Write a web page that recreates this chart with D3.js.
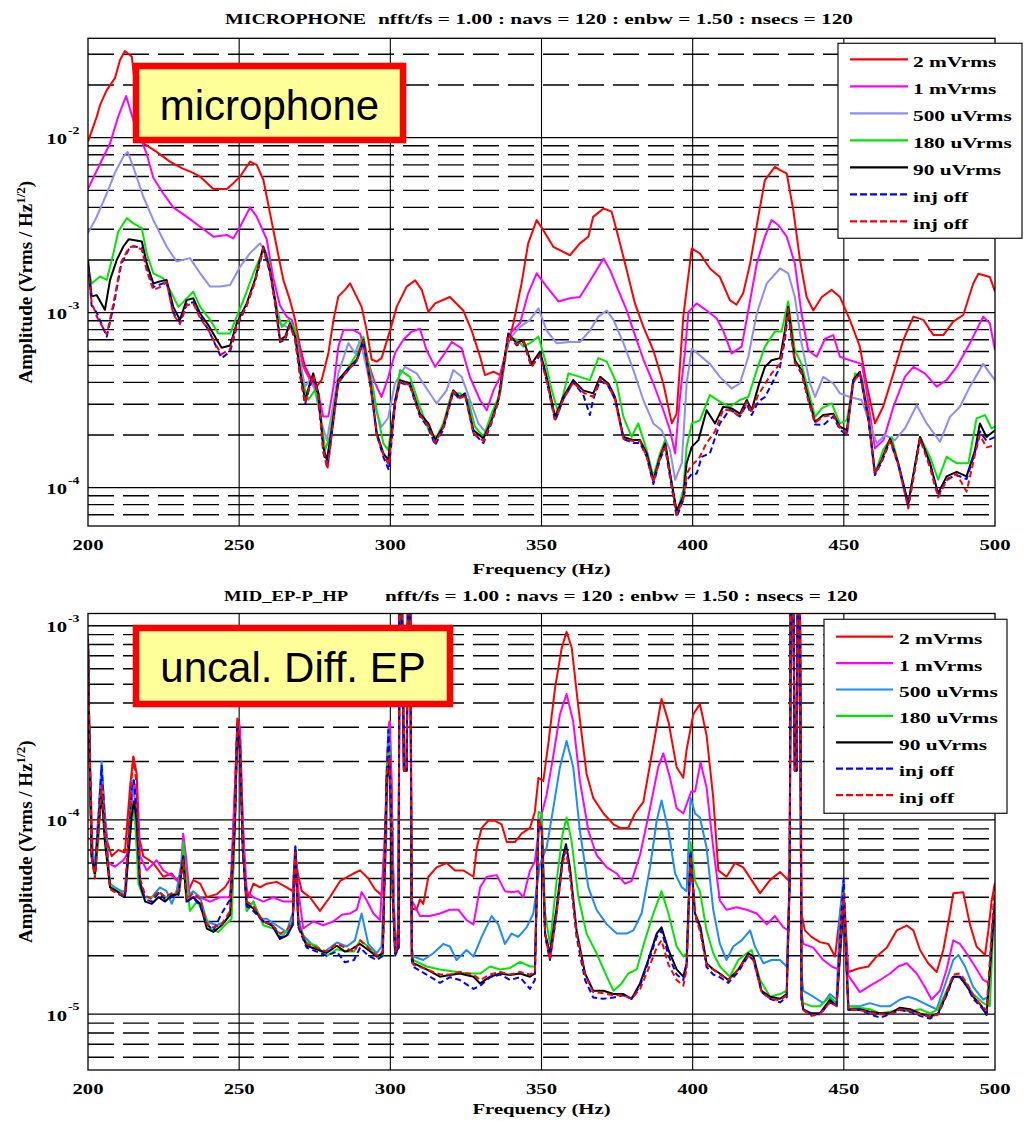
<!DOCTYPE html>
<html>
<head>
<meta charset="utf-8">
<script src="https://cdn.jsdelivr.net/npm/d3@7"></script>
<style>
  html, body { margin: 0; padding: 0; background: #ffffff; }
  svg { display: block; }
</style>
</head>
<body>
<div id="chart"></div>
<script>
// ---------------------------------------------------------------------------
// Amplitude spectral density, 200-500 Hz, two channels.
// Each series: [frequency (Hz), amplitude (Vrms / Hz^1/2)]
// ---------------------------------------------------------------------------

const seriesLabels = ["2 mVrms", "1 mVrms", "500 uVrms", "180 uVrms", "90 uVrms", "inj off", "inj off"];
const freqTicks = [200, 250, 300, 350, 400, 450, 500];

// ---- MICROPHONE channel ----
const mic2mV = [[200,9.5e-3],[202.9,1.32e-2],[204,1.54e-2],[206.2,1.87e-2],[208.9,2.19e-2],[210.6,2.78e-2],[212.2,3.13e-2],[214.5,2.9e-2],[216.2,1.6e-2],[218.3,9.3e-3],[222.7,8.3e-3],[227.1,7.3e-3],[231,6.7e-3],[234.8,6.3e-3],[237,6.0e-3],[241.5,5.1e-3],[245.9,5.1e-3],[248.1,5.5e-3],[250.3,6.0e-3],[253.6,7.3e-3],[255.8,7.0e-3],[258,5.75e-3],[260.2,3.7e-3],[262.4,2.38e-3],[264.6,1.54e-3],[266.8,1.18e-3],[268.5,9.1e-4],[270.1,6.4e-4],[271.8,4.9e-4],[274,4.13e-4],[275.6,3.78e-4],[277.3,4.13e-4],[279.5,5.86e-4],[281.2,9.1e-4],[282.8,1.24e-3],[285,1.35e-3],[286.7,1.47e-3],[288.3,1.29e-3],[290.5,1.08e-3],[292.2,7.9e-4],[293.8,5.4e-4],[295.5,5.25e-4],[297.1,5.5e-4],[299.9,7.9e-4],[302.1,1.08e-3],[305.4,1.41e-3],[308.2,1.53e-3],[310.4,1.35e-3],[312.6,1.01e-3],[314.8,1.13e-3],[319.7,1.23e-3],[324.1,1.03e-3],[326.9,7.9e-4],[329.7,5.6e-4],[331.3,4.4e-4],[334.1,4.6e-4],[336.3,4.4e-4],[338.5,6.1e-4],[340.7,8.7e-4],[343.4,1.47e-3],[345.6,2.49e-3],[348.4,3.38e-3],[350.6,2.96e-3],[353.9,2.38e-3],[359.4,2.13e-3],[362.7,2.49e-3],[365.5,2.72e-3],[367.1,3.53e-3],[370.5,3.94e-3],[373.2,3.78e-3],[375.4,2.72e-3],[378.2,1.75e-3],[380.9,1.13e-3],[383.7,8.3e-4],[387,6.1e-4],[390.3,3.94e-4],[393.1,2.33e-4],[394.7,2.65e-4],[396.9,9.5e-4],[399.7,2.33e-3],[402.4,2.18e-3],[405.7,1.79e-3],[409,1.6e-3],[412.3,1.18e-3],[414.5,1.11e-3],[416.7,1.29e-3],[419,1.91e-3],[421.7,3.53e-3],[423.9,5.73e-3],[427.2,6.82e-3],[428.9,6.53e-3],[431.1,6.25e-3],[433.3,3.85e-3],[435.5,2.0e-3],[437.7,1.23e-3],[439.9,1.03e-3],[442.7,1.23e-3],[446,1.35e-3],[448.7,1.23e-3],[452,9.1e-4],[455.3,6.4e-4],[457.5,3.94e-4],[460.3,2.33e-4],[463,2.9e-4],[466.4,4.5e-4],[469.7,7.0e-4],[473,9.5e-4],[476.3,9.1e-4],[479.6,7.45e-4],[482.9,7.45e-4],[486.2,8.9e-4],[489.5,9.7e-4],[492.8,1.47e-3],[494.5,1.67e-3],[498.3,1.6e-3],[500,1.32e-3]];

const mic1mV = [[200,5.1e-3],[204,7.1e-3],[207.3,9.3e-3],[210,1.32e-2],[212.6,1.73e-2],[215,1.26e-2],[219.4,8.1e-3],[221.6,5.9e-3],[224.9,4.8e-3],[228.2,4.0e-3],[232.6,3.54e-3],[237.1,3.1e-3],[241.5,2.72e-3],[245.9,2.78e-3],[248.1,2.66e-3],[250.3,3.1e-3],[253.6,4.0e-3],[255.8,3.54e-3],[259.1,2.63e-3],[261.3,1.58e-3],[263.5,1.1e-3],[265.7,9.5e-4],[267.4,9.1e-4],[269,7.3e-4],[271.2,4.9e-4],[273.4,4.13e-4],[276.2,3.46e-4],[277.8,2.55e-4],[279.5,2.55e-4],[281.2,3.78e-4],[282.8,6.4e-4],[284.5,7.96e-4],[287.8,7.96e-4],[290,7.6e-4],[292.2,5.5e-4],[294.9,3.98e-4],[297.1,3.3e-4],[299.3,4.27e-4],[301.6,5.9e-4],[304.3,7.0e-4],[307.1,7.8e-4],[309.8,8.1e-4],[312,6.1e-4],[314.8,4.9e-4],[317.5,5.7e-4],[320.3,6.8e-4],[323.6,6.25e-4],[326.3,4.3e-4],[329.7,3.16e-4],[331.9,2.77e-4],[334.1,3.6e-4],[336.3,4.3e-4],[339.6,7.6e-4],[342.9,8.7e-4],[345.6,1.29e-3],[348.4,1.68e-3],[351.7,1.41e-3],[355.6,1.16e-3],[359.4,1.21e-3],[362.7,1.23e-3],[365.5,1.47e-3],[368.2,1.75e-3],[370.5,2.04e-3],[372.7,1.75e-3],[374.9,1.41e-3],[378.2,1.03e-3],[380.4,7.9e-4],[383.7,5.4e-4],[387,3.94e-4],[390.3,2.77e-4],[392.5,2.13e-4],[394.2,1.57e-4],[395.8,3.3e-4],[397.5,6.1e-4],[398.6,1.01e-3],[401.3,1.13e-3],[404.6,1.03e-3],[407.9,9.3e-4],[410.1,7.9e-4],[412.9,5.85e-4],[416.2,6.4e-4],[418.4,1.03e-3],[421.2,1.91e-3],[423.9,2.72e-3],[426.1,3.38e-3],[428.3,3.17e-3],[431.1,2.72e-3],[433.8,1.91e-3],[436,9.9e-4],[438.2,6.1e-4],[441,5.6e-4],[443.8,7.1e-4],[446.5,7.45e-4],[448.7,5.6e-4],[452,5.35e-4],[455.9,5.1e-4],[457.5,3.6e-4],[460.3,1.68e-4],[463.1,1.87e-4],[466.4,2.9e-4],[470.2,4.3e-4],[473,4.9e-4],[476.8,4.5e-4],[480.7,3.78e-4],[484,4.12e-4],[487.3,4.9e-4],[491.7,6.7e-4],[496.1,9.5e-4],[498.3,8.7e-4],[500,6.1e-4]];

const mic500uV = [[200,2.84e-3],[202.9,3.54e-3],[206.2,4.8e-3],[208.9,6.3e-3],[211.7,7.8e-3],[213.1,8.3e-3],[215,6.8e-3],[218.3,4.6e-3],[221.6,3.39e-3],[226,2.39e-3],[229.3,1.96e-3],[233.7,2.05e-3],[237.1,1.68e-3],[240.4,1.41e-3],[243.7,1.41e-3],[247,1.44e-3],[250.3,1.83e-3],[253.6,2.19e-3],[256.9,2.49e-3],[259.1,2.19e-3],[261.3,1.35e-3],[263.5,8.7e-4],[265.7,8.3e-4],[267.9,7.96e-4],[269.6,5.86e-4],[271.8,3.78e-4],[273.4,4.13e-4],[275.1,3.6e-4],[277.3,2.33e-4],[279,1.87e-4],[280.6,2.66e-4],[282.8,4.5e-4],[286.1,6.7e-4],[288.3,5.86e-4],[290,7.0e-4],[292.2,4.8e-4],[294.9,2.88e-4],[297.1,2.23e-4],[299.3,2.51e-4],[301.5,3.94e-4],[304.8,4.9e-4],[308.7,4.5e-4],[312,3.69e-4],[315.3,3.03e-4],[318.6,3.6e-4],[320.8,4.7e-4],[323.6,4.3e-4],[326.4,3.16e-4],[329.1,2.33e-4],[331.9,2.04e-4],[334.1,2.65e-4],[336.3,3.46e-4],[339,7.0e-4],[342.9,8.3e-4],[346.2,9.1e-4],[349,1.06e-3],[351.7,7.9e-4],[355,6.7e-4],[359.4,6.8e-4],[362.7,6.8e-4],[366,7.9e-4],[368.8,9.5e-4],[371.6,1.03e-3],[373.8,9.1e-4],[377.1,6.7e-4],[380.4,4.7e-4],[383.7,3.16e-4],[387,2.33e-4],[389.7,2.13e-4],[392.5,1.64e-4],[394.2,1.11e-4],[396.4,1.38e-4],[398,3.94e-4],[399.7,6.25e-4],[402.4,5.7e-4],[405.7,5.1e-4],[409,4.3e-4],[412.9,3.69e-4],[415.6,3.94e-4],[418.4,5.6e-4],[421.2,9.9e-4],[424.5,1.47e-3],[428.9,1.79e-3],[431.6,1.68e-3],[433.8,1.23e-3],[436,6.7e-4],[438.8,3.94e-4],[440.5,3.3e-4],[443.2,4.3e-4],[446.5,3.94e-4],[448.7,3.46e-4],[452,3.3e-4],[455.9,3.17e-4],[458.6,2.33e-4],[460.9,1.79e-4],[463.6,2.0e-4],[466.9,1.87e-4],[470.2,2.18e-4],[474.1,2.96e-4],[477.4,2.33e-4],[481.8,1.83e-4],[485.1,2.54e-4],[488.4,2.9e-4],[491.7,3.78e-4],[496.1,5.1e-4],[498.3,4.5e-4],[500,4.12e-4]];

const mic180uV = [[200,1.83e-3],[201.2,1.47e-3],[204,1.61e-3],[206.2,1.54e-3],[208.4,2.19e-3],[210,2.9e-3],[212.8,3.47e-3],[215,3.24e-3],[217.8,3.04e-3],[219.4,2.19e-3],[221.6,1.68e-3],[224.9,1.57e-3],[227.1,1.35e-3],[229.9,1.08e-3],[232.1,1.18e-3],[234.8,1.32e-3],[237.1,1.08e-3],[240.4,9.1e-4],[243.1,7.6e-4],[247,7.6e-4],[249.2,9.5e-4],[251.9,1.24e-3],[254.7,1.68e-3],[258,2.29e-3],[259.7,2.0e-3],[261.9,1.13e-3],[264.1,8.3e-4],[266.3,9.1e-4],[268.5,8.0e-4],[270.7,4.13e-4],[272.9,3.18e-4],[275.1,3.62e-4],[276.7,2.78e-4],[278.4,1.64e-4],[280,1.96e-4],[282.3,3.78e-4],[285.6,4.7e-4],[289.4,6.0e-4],[291.1,7.3e-4],[293.3,4.7e-4],[295.5,2.77e-4],[297.7,1.79e-4],[299.3,1.64e-4],[301,2.65e-4],[303.2,4.7e-4],[306.5,4.3e-4],[309.8,2.9e-4],[313.1,2.04e-4],[315.3,1.95e-4],[317.5,2.33e-4],[320.3,3.46e-4],[323,3.46e-4],[325.8,3.17e-4],[328,2.23e-4],[330.8,1.95e-4],[333.5,2.65e-4],[336.3,3.46e-4],[339,7.3e-4],[341.8,7.0e-4],[344,6.4e-4],[346.7,6.8e-4],[349,7.3e-4],[351.2,5.35e-4],[353.4,3.6e-4],[355.6,2.65e-4],[358.9,4.5e-4],[362.7,4.3e-4],[366,4.12e-4],[368.8,5.5e-4],[371.6,5.25e-4],[374.9,3.94e-4],[377.1,2.54e-4],[379.8,1.95e-4],[382,2.33e-4],[384.8,1.64e-4],[387,1.16e-4],[389.2,1.57e-4],[390.9,1.87e-4],[392.5,1.21e-4],[394.7,7.1e-5],[396.9,9.7e-5],[398,1.71e-4],[399.7,2.33e-4],[402.4,2.43e-4],[405.7,3.38e-4],[409,3.1e-4],[412.3,2.9e-4],[415.6,3.17e-4],[418.4,3.3e-4],[421.2,4.7e-4],[423.9,6.4e-4],[427.2,7.8e-4],[429.4,7.8e-4],[431.6,1.16e-3],[433.8,6.1e-4],[436,5.1e-4],[438.2,3.6e-4],[440.5,2.54e-4],[442.7,2.84e-4],[446,3.03e-4],[448.7,2.33e-4],[451,2.43e-4],[453.7,4.5e-4],[455.9,4.3e-4],[458.1,2.65e-4],[460.3,1.21e-4],[463,1.64e-4],[465.8,1.95e-4],[468.6,1.26e-4],[471.3,8.1e-5],[475.2,1.95e-4],[478.5,1.5e-4],[481.2,1.11e-4],[484,1.5e-4],[487.3,1.38e-4],[491.2,1.38e-4],[493.9,2.49e-4],[496.7,2.6e-4],[498.9,2.18e-4],[500,2.23e-4]];

const mic90uV = [[200,2.0e-3],[201.2,1.24e-3],[202.9,1.26e-3],[205.6,1.04e-3],[207.3,1.54e-3],[209.5,2.0e-3],[211.7,2.39e-3],[213.5,2.63e-3],[215,2.6e-3],[217.8,2.55e-3],[219.4,1.92e-3],[221.6,1.47e-3],[223.8,1.51e-3],[226,1.54e-3],[228.2,1.08e-3],[230.4,9.1e-4],[232.6,1.18e-3],[234.8,1.21e-3],[237.1,9.9e-4],[239.8,8.5e-4],[242.6,7.0e-4],[244.2,6.3e-4],[247,6.5e-4],[249.2,8.7e-4],[252.5,1.13e-3],[255.2,1.54e-3],[258,2.39e-3],[260.2,1.75e-3],[261.9,1.18e-3],[263.5,7.0e-4],[265.2,7.3e-4],[266.8,8.7e-4],[268.5,7.3e-4],[270.1,4.7e-4],[271.8,3.17e-4],[273.4,3.94e-4],[274.5,4.5e-4],[276.2,3.46e-4],[277.8,1.71e-4],[279,1.44e-4],[280.6,2.14e-4],[282.8,4.13e-4],[285.6,4.7e-4],[288.9,5.4e-4],[291.1,7.0e-4],[293.3,4.13e-4],[295.5,2.05e-4],[297.7,1.57e-4],[299.3,1.44e-4],[301.6,3.16e-4],[303.2,4.12e-4],[306.5,3.94e-4],[309.8,2.65e-4],[312.6,2.33e-4],[314.8,1.87e-4],[317.5,2.23e-4],[320.8,3.6e-4],[323,3.3e-4],[324.7,3.46e-4],[327.5,2.13e-4],[330.8,1.91e-4],[333.5,2.43e-4],[335.7,3.17e-4],[339,7.6e-4],[341.8,6.7e-4],[344,7.0e-4],[346.7,5.1e-4],[349.5,6.0e-4],[351.7,4.3e-4],[354.5,2.54e-4],[357.2,3.3e-4],[360.5,4.12e-4],[363.8,3.6e-4],[367.1,3.46e-4],[369.4,4.3e-4],[372.1,3.94e-4],[374.3,3.3e-4],[377.1,1.95e-4],[380.4,1.87e-4],[382.6,1.87e-4],[384.8,1.57e-4],[387,1.1e-4],[389.2,1.5e-4],[390.9,1.79e-4],[392.5,1.21e-4],[394.7,7.4e-5],[396.9,8.9e-5],[398,1.38e-4],[399.7,1.71e-4],[401.9,1.87e-4],[404.6,2.77e-4],[407.4,2.33e-4],[410.1,2.9e-4],[412.9,2.84e-4],[415.6,2.65e-4],[417.9,3.17e-4],[419.5,2.77e-4],[421.7,3.78e-4],[423.9,4.9e-4],[426.1,5.35e-4],[428.9,5.5e-4],[430.5,7.9e-4],[431.6,1.08e-3],[433.8,5.35e-4],[436,4.7e-4],[438.2,3.3e-4],[440.5,2.38e-4],[443.2,2.6e-4],[446.5,2.65e-4],[448.7,2.23e-4],[451,2.13e-4],[453.1,4.12e-4],[455.3,4.6e-4],[458.1,2.54e-4],[460.3,1.21e-4],[462.5,1.44e-4],[465.3,1.91e-4],[468,1.38e-4],[471.3,8.1e-5],[475.2,1.95e-4],[478.5,1.38e-4],[481.2,9.3e-5],[484,1.16e-4],[487.3,1.23e-4],[490.6,1.16e-4],[493.4,1.64e-4],[495,2.33e-4],[497.2,1.95e-4],[500,2.13e-4]];

const micOffA = [[200,1.9e-3],[201.2,1.1e-3],[202.9,1.0e-3],[206.2,7.3e-4],[208.5,1.1e-3],[211,1.9e-3],[213.5,2.3e-3],[215,2.4e-3],[217.8,2.35e-3],[219.4,1.8e-3],[221.6,1.4e-3],[223.8,1.45e-3],[226,1.5e-3],[228.2,1.0e-3],[230.4,8.8e-4],[232.6,1.12e-3],[234.8,1.15e-3],[237.1,9.5e-4],[239.8,8.0e-4],[242.6,6.3e-4],[244.2,5.5e-4],[247,6.0e-4],[249.2,8.3e-4],[252.5,1.1e-3],[255.2,1.5e-3],[258,2.3e-3],[260.2,1.7e-3],[262,1.1e-3],[263.5,6.8e-4],[265.2,7.0e-4],[266.8,8.5e-4],[268.5,7.0e-4],[270.1,4.4e-4],[271.8,3.0e-4],[273.4,3.8e-4],[274.5,4.3e-4],[276.2,3.3e-4],[277.8,1.6e-4],[279.2,1.3e-4],[280.6,2.0e-4],[282.8,4.0e-4],[285.6,4.6e-4],[288.9,5.3e-4],[291.1,6.8e-4],[293.3,4.0e-4],[295.5,2.0e-4],[297.7,1.5e-4],[299.5,1.26e-4],[301.6,3.0e-4],[303.2,4.0e-4],[306.5,3.8e-4],[309.8,2.55e-4],[312.6,2.2e-4],[314.8,1.75e-4],[317.5,2.15e-4],[320.8,3.5e-4],[323,3.2e-4],[324.7,3.4e-4],[327.5,2.05e-4],[330.8,1.8e-4],[333.5,2.35e-4],[335.7,3.1e-4],[339,7.5e-4],[341.8,6.5e-4],[344,6.8e-4],[346.7,4.9e-4],[349.5,5.8e-4],[351.7,4.1e-4],[354.5,2.4e-4],[357.2,3.2e-4],[360.5,4.0e-4],[363.8,3.4e-4],[366,2.6e-4],[367.1,3.2e-4],[369.4,4.1e-4],[372.1,3.8e-4],[374.3,3.2e-4],[377.1,1.9e-4],[380.4,1.8e-4],[382.6,1.8e-4],[384.8,1.5e-4],[387,1.05e-4],[389.2,1.45e-4],[390.9,1.7e-4],[392.5,1.15e-4],[394.7,6.8e-5],[396.9,8.5e-5],[398,1.1e-4],[399.7,1.2e-4],[401.3,1.2e-4],[403,1.5e-4],[405.7,1.57e-4],[409,2.33e-4],[412.3,2.8e-4],[415.6,2.55e-4],[417.9,3.0e-4],[419.5,2.6e-4],[421.7,3.1e-4],[423.9,3.3e-4],[426.1,3.9e-4],[428.9,4.9e-4],[430.5,7.0e-4],[431.6,1.0e-3],[433.8,5.2e-4],[436,4.5e-4],[438.2,3.2e-4],[440.5,2.3e-4],[443.2,2.28e-4],[446.5,2.55e-4],[448.7,2.15e-4],[451,2.0e-4],[453.1,4.0e-4],[455.3,4.5e-4],[458.1,2.45e-4],[460.3,1.18e-4],[462.5,1.4e-4],[465.3,1.85e-4],[468,1.35e-4],[471.3,7.8e-5],[475.2,1.9e-4],[478.5,1.35e-4],[481.2,9.0e-5],[484,1.12e-4],[487.3,1.18e-4],[490.6,1.12e-4],[493.4,1.6e-4],[495,2.1e-4],[497.2,1.85e-4],[500,1.95e-4]];

const micOffB = [[200,1.8e-3],[201.2,1.15e-3],[202.9,9.5e-4],[206.2,7.5e-4],[208.5,1.15e-3],[211,1.95e-3],[213.5,2.35e-3],[215,2.4e-3],[217.8,2.3e-3],[219.4,1.75e-3],[221.6,1.35e-3],[223.8,1.4e-3],[226,1.5e-3],[228.2,9.8e-4],[230.4,8.6e-4],[232.6,1.1e-3],[234.8,1.13e-3],[237.1,9.3e-4],[239.8,8.0e-4],[242.6,6.4e-4],[244.2,5.8e-4],[247,6.2e-4],[249.2,8.5e-4],[252.5,1.1e-3],[255.2,1.5e-3],[258,2.35e-3],[260.2,1.7e-3],[262,1.12e-3],[263.5,6.9e-4],[265.2,7.1e-4],[266.8,8.5e-4],[268.5,7.1e-4],[270.1,4.5e-4],[271.8,3.05e-4],[273.4,3.85e-4],[274.5,4.4e-4],[276.2,3.35e-4],[277.8,1.65e-4],[279.2,1.28e-4],[280.6,2.0e-4],[282.8,4.0e-4],[285.6,4.6e-4],[288.9,5.3e-4],[291.1,6.9e-4],[293.3,4.05e-4],[295.5,2.0e-4],[297.7,1.55e-4],[299.5,1.35e-4],[301.6,3.05e-4],[303.2,4.05e-4],[306.5,3.85e-4],[309.8,2.6e-4],[312.6,2.25e-4],[314.8,1.8e-4],[317.5,2.2e-4],[320.8,3.55e-4],[323,3.25e-4],[324.7,3.4e-4],[327.5,2.05e-4],[330.8,1.85e-4],[333.5,2.4e-4],[335.7,3.1e-4],[339,7.5e-4],[341.8,6.6e-4],[344,6.9e-4],[346.7,4.9e-4],[349.5,5.7e-4],[351.7,4.1e-4],[354.5,2.45e-4],[357.2,3.2e-4],[360.5,4.0e-4],[363.8,3.5e-4],[367.1,3.3e-4],[369.4,4.2e-4],[372.1,3.85e-4],[374.3,3.2e-4],[377.1,1.9e-4],[380.4,1.85e-4],[382.6,1.85e-4],[384.8,1.5e-4],[387,1.07e-4],[389.2,1.47e-4],[390.9,1.75e-4],[392.5,1.18e-4],[394.7,7.0e-5],[396.9,8.6e-5],[398,1.2e-4],[399.7,1.35e-4],[401.9,1.45e-4],[404.6,1.8e-4],[407.4,2.1e-4],[410.1,2.8e-4],[412.9,2.75e-4],[415.6,2.55e-4],[417.9,3.1e-4],[419.5,2.7e-4],[421.7,3.4e-4],[423.9,3.9e-4],[426.1,4.5e-4],[428.9,5.1e-4],[430.5,7.4e-4],[431.6,1.05e-3],[433.8,5.2e-4],[436,4.6e-4],[438.2,3.2e-4],[440.5,2.35e-4],[443.2,2.55e-4],[446.5,2.6e-4],[448.7,2.2e-4],[451,2.05e-4],[453.1,4.0e-4],[455.3,4.5e-4],[458.1,2.5e-4],[460.3,1.2e-4],[462.5,1.42e-4],[465.3,1.88e-4],[468,1.36e-4],[471.3,7.6e-5],[475.2,1.9e-4],[478.5,1.3e-4],[481.2,8.8e-5],[484,1.1e-4],[487.3,1.2e-4],[490.6,9.5e-5],[493.4,1.55e-4],[495,2.0e-4],[497.2,1.7e-4],[500,1.75e-4]];

// ---- MID_EP-P_HP channel (uncalibrated differential EP) ----
const ep2mV = [[200,8.5e-4],[200.4,3.07e-4],[200.9,1.47e-4],[201.6,6.5e-5],[202.3,5.3e-5],[203.1,7.7e-5],[204,1.47e-4],[204.7,1.66e-4],[205.6,1.06e-4],[206.4,7.7e-5],[207.8,6.5e-5],[210,7.0e-5],[212.2,6.8e-5],[213.9,1.47e-4],[215,2.12e-4],[216.1,1.73e-4],[217,8.0e-5],[218.3,6.5e-5],[221.6,6.0e-5],[224.9,5.1e-5],[227.7,5.3e-5],[229.3,4.9e-5],[231,5.3e-5],[231.9,7.0e-5],[233.2,4.3e-5],[234.8,4.9e-5],[237.1,4.7e-5],[239.3,4.0e-5],[242.6,4.15e-5],[245.3,4.5e-5],[247.5,5.1e-5],[248.6,1.47e-4],[249.4,3.33e-4],[250.1,3.07e-4],[250.8,1.47e-4],[251.9,4.9e-5],[253,4.0e-5],[254.7,4.7e-5],[256.9,4.5e-5],[259.1,4.7e-5],[262.4,4.8e-5],[265.7,4.5e-5],[267.7,4.3e-5],[268.5,7.0e-5],[269.4,5.3e-5],[270.7,4.3e-5],[273.4,4.0e-5],[276.7,3.4e-5],[280,4.0e-5],[283.4,4.85e-5],[287.8,5.3e-5],[290,5.5e-5],[292.7,5.0e-5],[294.9,4.4e-5],[297.1,4.1e-5],[298.2,7.2e-5],[299,2.15e-4],[299.7,3.2e-4],[300.4,1.6e-4],[301.2,3.3e-5],[302.1,2.2e-5],[302.7,2.5e-5],[303.1,3e-3],[303.6,3e-3],[304.5,1.8e-4],[305.4,1.8e-4],[306,3e-3],[306.5,3e-3],[307,3.5e-5],[308.7,3.45e-5],[309.8,3.9e-5],[310.9,3.7e-5],[312.6,5.1e-5],[315.3,5.7e-5],[318.6,6.0e-5],[321.4,5.5e-5],[324.1,5.5e-5],[325.8,5.3e-5],[327.5,5.1e-5],[328.6,7.2e-5],[330.2,9.1e-5],[332.4,9.9e-5],[334.6,9.9e-5],[336.8,9.5e-5],[338.5,7.7e-5],[341.2,7.7e-5],[343.4,8.5e-5],[346.2,9.1e-5],[347.8,1.1e-4],[349,1.65e-4],[350.6,1.59e-4],[352.3,2.5e-4],[354.5,4.8e-4],[356.7,7.7e-4],[358.3,9.3e-4],[360,7.7e-4],[362.2,3.8e-4],[364.9,1.73e-4],[367.1,1.3e-4],[370.5,1.08e-4],[373.8,9.5e-5],[376,9.1e-5],[378.7,9.1e-5],[380.9,1.08e-4],[383.7,1.24e-4],[386.4,2.14e-4],[389.7,4.2e-4],[392,3.2e-4],[394.7,1.87e-4],[396.9,1.65e-4],[398,2.3e-4],[400.2,3.5e-4],[402.4,3.95e-4],[404.6,2.73e-4],[406.8,1.3e-4],[408.5,5.5e-5],[411.2,5.1e-5],[414,6.0e-5],[416.7,5.7e-5],[419.5,4.9e-5],[422.3,4.2e-5],[425.6,4.9e-5],[428.9,5.4e-5],[431.6,4.9e-5],[432.1,6e-5],[432.5,3e-3],[433.1,3e-3],[433.8,1.8e-4],[434.4,1.8e-4],[434.9,3e-3],[435.4,3e-3],[436,3.3e-5],[437.1,2.7e-5],[439.3,2.5e-5],[442.1,2.35e-5],[444.9,2.3e-5],[447.1,1.98e-5],[448.5,3.05e-5],[449.6,4.2e-5],[450.4,3.3e-5],[451.5,1.65e-5],[454.8,1.72e-5],[458.1,1.76e-5],[460.8,1.98e-5],[464.2,2.2e-5],[467.5,2.7e-5],[470.8,2.86e-5],[473,2.7e-5],[475.2,2.14e-5],[477.9,1.83e-5],[480.7,1.65e-5],[482.9,2.14e-5],[485.1,3.3e-5],[486.2,4.2e-5],[489.5,4.25e-5],[491.7,2.9e-5],[493.9,2.23e-5],[496.7,2.02e-5],[497.8,2.7e-5],[498.9,3.85e-5],[500,4.75e-5]];

const ep1mV = [[200,8.2e-4],[200.4,3.07e-4],[201.2,6.5e-5],[202.3,5.5e-5],[203.1,9.0e-5],[204.5,1.73e-4],[205.6,9.8e-5],[206.7,6.0e-5],[208.9,5.75e-5],[211.7,6.2e-5],[213.3,6.8e-5],[215,1.6e-4],[216.1,1.36e-4],[217.2,6.5e-5],[219.4,5.5e-5],[222.7,6.2e-5],[224.9,5.5e-5],[228.2,5.1e-5],[230.4,4.7e-5],[231.5,8.5e-5],[232.4,6.5e-5],[233.7,4.0e-5],[237.1,4.0e-5],[240.4,3.8e-5],[243.7,4.0e-5],[247,4.0e-5],[248.6,1.47e-4],[249.5,3.2e-4],[250.3,2.94e-4],[251.2,9.8e-5],[252.5,4.3e-5],[254.7,4.0e-5],[258,3.8e-5],[261.3,4.0e-5],[264.6,3.8e-5],[267.7,3.8e-5],[268.5,7.0e-5],[269.6,4.3e-5],[271.2,2.76e-5],[274.5,3.0e-5],[277.8,2.87e-5],[281.1,3.0e-5],[284,3.25e-5],[286.7,3.3e-5],[288.9,3.45e-5],[290.5,4.25e-5],[292.2,3.85e-5],[294.4,3.3e-5],[296.6,3.05e-5],[298.2,8.5e-5],[299.3,2.85e-4],[299.9,3.2e-4],[300.8,7.2e-5],[301.6,2.2e-5],[302.7,2.5e-5],[303.1,3e-3],[303.6,3e-3],[304.5,1.8e-4],[305.4,1.8e-4],[306,3e-3],[306.5,3e-3],[307.1,3.85e-5],[309.8,3.2e-5],[313.1,3.2e-5],[316.4,3.3e-5],[319.7,3.45e-5],[322.5,3.45e-5],[325.2,3.05e-5],[327.5,2.9e-5],[329.7,4.5e-5],[331.9,5.1e-5],[335.2,5.2e-5],[337.9,4.3e-5],[340.1,4.25e-5],[342.3,4.3e-5],[344,4.0e-5],[346.2,5.5e-5],[347.8,6.1e-5],[349.5,9.9e-5],[351.7,1.35e-4],[353.9,2.14e-4],[356.1,3.5e-4],[358.3,4.45e-4],[360.5,3.2e-4],[362.7,1.59e-4],[365.5,8.8e-5],[368.2,6.6e-5],[371.6,5.7e-5],[374.9,5.3e-5],[377.6,4.7e-5],[379.8,4.85e-5],[382.6,6.6e-5],[385.9,1.15e-4],[388.6,1.87e-4],[390.3,2.2e-4],[392.5,1.65e-4],[394.7,1.15e-4],[396.9,1.08e-4],[399.5,1.4e-4],[400.8,1.4e-4],[402.6,1.98e-4],[404.6,1.47e-4],[406.8,7.2e-5],[409,3.85e-5],[411.2,3.45e-5],[414.5,3.55e-5],[417.9,3.45e-5],[421.2,3.3e-5],[424.5,2.9e-5],[427.2,3.2e-5],[430,2.8e-5],[431.6,2.7e-5],[432.1,6e-5],[432.5,3e-3],[433.1,3e-3],[433.8,1.8e-4],[434.4,1.8e-4],[434.9,3e-3],[435.4,3e-3],[436,2.6e-5],[436.6,2.3e-5],[439.9,2.2e-5],[443.2,1.9e-5],[446,1.76e-5],[448.2,1.7e-5],[449.3,3.85e-5],[450.4,2.7e-5],[451.5,1.58e-5],[455.3,1.3e-5],[458.6,1.4e-5],[462,1.5e-5],[465.3,1.62e-5],[468,1.76e-5],[470.8,1.83e-5],[474.1,1.62e-5],[476.8,1.38e-5],[479,1.19e-5],[481.8,1.32e-5],[484,1.7e-5],[486.2,2.4e-5],[488.4,2.3e-5],[490.6,2.06e-5],[493.4,1.76e-5],[496.1,1.5e-5],[498.3,1.44e-5],[499.4,3.3e-5],[500,3.55e-5]];

const ep500uV = [[200,8.9e-4],[200.4,3.07e-4],[201.2,7.0e-5],[202.3,6.0e-5],[203.4,9.8e-5],[204.5,2.0e-4],[205.6,9.8e-5],[207.3,4.7e-5],[208.9,4.5e-5],[211.1,4.3e-5],[212.6,4.3e-5],[214.5,1.6e-4],[215.6,1.25e-4],[216.7,5.3e-5],[218.3,4.0e-5],[221.1,4.0e-5],[223.8,4.5e-5],[226,4.3e-5],[227.7,3.7e-5],[229.3,4.3e-5],[231.3,6.5e-5],[232.6,4.0e-5],[234.8,4.3e-5],[237.1,4.0e-5],[239.3,3.0e-5],[242.6,2.87e-5],[245.3,3.0e-5],[247.5,3.4e-5],[248.6,9.8e-5],[249.4,3.07e-4],[250.3,2.4e-4],[251.2,8.0e-5],[252.5,3.4e-5],[254.7,3.8e-5],[256.9,3.1e-5],[259.1,3.1e-5],[262.4,2.87e-5],[265.7,2.65e-5],[267.9,3.4e-5],[268.6,7.3e-5],[269.6,3.1e-5],[271.2,2.54e-5],[274.5,2.25e-5],[277.8,2.07e-5],[282.3,2.34e-5],[285.6,2.23e-5],[288.3,2.4e-5],[290.5,3.3e-5],[292.7,2.3e-5],[295.5,2.06e-5],[297.1,2.23e-5],[298.6,7.2e-5],[299.4,2.95e-4],[300.4,1.08e-4],[301.6,2.06e-5],[302.7,2.2e-5],[303.1,3e-3],[303.6,3e-3],[304.5,1.8e-4],[305.4,1.8e-4],[306,3e-3],[306.5,3e-3],[307.1,2.2e-5],[307.6,1.98e-5],[310.9,1.9e-5],[314.2,2.06e-5],[317.5,2.3e-5],[319.7,2.23e-5],[321.9,1.9e-5],[325.2,2.14e-5],[327.5,1.98e-5],[330.2,2.5e-5],[333.5,3.2e-5],[335.7,2.9e-5],[337.9,2.3e-5],[340.1,2.6e-5],[342.3,2.5e-5],[345.1,2.8e-5],[347.3,3.3e-5],[349.5,5.9e-5],[351.7,7.2e-5],[353.9,1.15e-4],[356.1,1.87e-4],[358.3,2.55e-4],[360.5,1.87e-4],[362.7,8.8e-5],[365.5,4.5e-5],[368.2,3.45e-5],[371.6,2.9e-5],[374.9,2.6e-5],[378.2,2.6e-5],[380.4,2.7e-5],[383.1,3.3e-5],[385.9,5.7e-5],[388.1,9.9e-5],[389.7,1.26e-4],[392,8.8e-5],[394.2,5.3e-5],[396.4,4.5e-5],[398,4.3e-5],[399.3,1.3e-4],[400.8,1.08e-4],[402.4,1.03e-4],[404.6,7.2e-5],[406.8,3.45e-5],[409,2.3e-5],[411.2,1.9e-5],[413.4,2.23e-5],[416.2,2.4e-5],[419,2.7e-5],[420.6,2.23e-5],[423.4,1.83e-5],[426.1,1.9e-5],[428.9,1.9e-5],[431.1,1.76e-5],[432.1,5e-5],[432.5,3e-3],[433.1,3e-3],[433.8,1.8e-4],[434.4,1.8e-4],[434.9,3e-3],[435.4,3e-3],[436,1.6e-5],[436.6,1.32e-5],[439.9,1.23e-5],[443.2,1.14e-5],[445.4,1.27e-5],[447.6,1.19e-5],[448.7,3.3e-5],[449.8,4.85e-5],[450.6,2.23e-5],[451.5,1.1e-5],[455.3,1.1e-5],[458.6,1.14e-5],[462,1.1e-5],[465.3,1.1e-5],[468.6,1.19e-5],[471.3,1.23e-5],[474.1,1.19e-5],[477.4,1.12e-5],[480.7,1.06e-5],[484,1.5e-5],[486.2,1.9e-5],[487.9,2.02e-5],[490.1,1.76e-5],[492.8,1.38e-5],[496.1,1.19e-5],[497.8,1.23e-5],[498.9,2.7e-5],[500,3.05e-5]];

const ep180uV = [[200,7.5e-4],[200.4,2.71e-4],[201.2,6.5e-5],[202.3,5.1e-5],[203.4,7.7e-5],[204.5,1.47e-4],[205.6,8.3e-5],[207.3,4.7e-5],[209.5,4.3e-5],[212.2,4.15e-5],[214.5,1.2e-4],[215.6,9.8e-5],[216.7,4.7e-5],[218.3,4.0e-5],[221.1,4.0e-5],[223.8,4.2e-5],[226,4.0e-5],[228.2,4.15e-5],[230.4,4.3e-5],[231.5,7.7e-5],[232.4,5.3e-5],[233.7,3.4e-5],[236,3.8e-5],[238.2,3.4e-5],[240.4,2.76e-5],[243.1,2.65e-5],[245.3,2.87e-5],[247.5,3.1e-5],[248.6,9.0e-5],[249.4,3.07e-4],[250.3,2.4e-4],[251.2,7.7e-5],[252.5,3.4e-5],[254.7,3.8e-5],[258,2.87e-5],[261.3,2.76e-5],[264.6,2.54e-5],[267.7,3.0e-5],[268.6,7.0e-5],[269.6,2.87e-5],[272.3,2.34e-5],[275.6,2.25e-5],[278.9,1.99e-5],[282.3,2.16e-5],[285.6,2.1e-5],[288,2.1e-5],[290,2.4e-5],[292.7,2.23e-5],[295.5,1.98e-5],[297.5,1.98e-5],[298.8,1.87e-4],[299.7,2.45e-4],[300.8,4.85e-5],[301.6,2.06e-5],[302.7,2.2e-5],[303.1,3e-3],[303.6,3e-3],[304.5,1.8e-4],[305.4,1.8e-4],[306,3e-3],[306.5,3e-3],[307.1,2.1e-5],[307.6,1.9e-5],[312,1.76e-5],[316.4,1.7e-5],[320.8,1.66e-5],[325.2,1.62e-5],[329.7,1.62e-5],[333,1.76e-5],[336.3,1.7e-5],[339.6,1.73e-5],[342.9,1.86e-5],[346.2,1.76e-5],[347.8,1.76e-5],[349,1.1e-4],[350.1,1.08e-4],[351.2,3.3e-5],[352.8,2.3e-5],[355,4.85e-5],[357,8.5e-5],[358.3,1.03e-4],[360,7.7e-5],[362.2,4.0e-5],[364.9,2.6e-5],[368.2,2.06e-5],[371.6,1.56e-5],[373.8,1.32e-5],[376.5,1.44e-5],[378.7,1.62e-5],[381.5,1.7e-5],[384.2,2.4e-5],[387,3.3e-5],[389.7,4.3e-5],[392,3.3e-5],[394.7,2.23e-5],[396.9,1.98e-5],[398,2.06e-5],[399.3,7.7e-5],[400.8,4.85e-5],[402.4,4.3e-5],[404.6,2.7e-5],[406.8,2.06e-5],[409,1.76e-5],[412.3,1.56e-5],[415.1,1.9e-5],[417.9,2.06e-5],[419.5,2.14e-5],[422.3,1.5e-5],[425.6,1.23e-5],[428.9,1.27e-5],[431.1,1.32e-5],[432.1,5e-5],[432.5,3e-3],[433.1,3e-3],[433.8,1.8e-4],[434.4,1.8e-4],[434.9,3e-3],[435.4,3e-3],[436,1.3e-5],[436.6,1.14e-5],[439.3,1.1e-5],[442.1,1.1e-5],[445.4,1.23e-5],[447.6,1.14e-5],[449.3,2.7e-5],[450,4.5e-5],[450.7,2.23e-5],[451.5,1.1e-5],[455.3,1.08e-5],[458.6,1.06e-5],[462,1.01e-5],[465.3,1.03e-5],[468.6,1.06e-5],[471.9,1.03e-5],[475.2,1.06e-5],[478.5,1.01e-5],[481.2,1.06e-5],[484,1.32e-5],[486.2,1.56e-5],[488.4,1.56e-5],[490.6,1.44e-5],[492.8,1.27e-5],[496.1,1.14e-5],[498.3,1.1e-5],[499.4,2.7e-5],[500,3.3e-5]];

const ep90uV = [[200,8.2e-4],[200.4,2.94e-4],[201.2,6.5e-5],[202.3,5.3e-5],[203.4,9.0e-5],[204.5,1.36e-4],[205.6,7.7e-5],[207.3,4.5e-5],[209.5,4.3e-5],[212.2,4.0e-5],[214.5,1.06e-4],[215.2,1.25e-4],[216.1,9.8e-5],[217.2,4.7e-5],[218.9,3.8e-5],[221.1,3.7e-5],[223.3,4.0e-5],[225.5,3.8e-5],[227.7,4.1e-5],[229.9,4.15e-5],[231.5,6.5e-5],[232.6,3.8e-5],[234.8,4.0e-5],[237.1,3.7e-5],[239.3,2.76e-5],[241.5,2.65e-5],[244.2,2.87e-5],[247,3.25e-5],[248.6,9.8e-5],[249.4,3.07e-4],[250.3,2.21e-4],[251.2,7.0e-5],[252.5,3.7e-5],[254.7,3.5e-5],[258,3.0e-5],[260.8,2.87e-5],[263.5,2.44e-5],[265.7,2.54e-5],[267.7,2.87e-5],[268.6,7.0e-5],[269.6,2.87e-5],[272.3,2.25e-5],[275.6,2.16e-5],[278.9,2.07e-5],[282.3,2.25e-5],[285,2.1e-5],[286.7,2.14e-5],[290,2.3e-5],[292.7,2.14e-5],[295.5,1.98e-5],[297.5,2.06e-5],[298.8,1.59e-4],[299.7,2.0e-4],[300.8,4.0e-5],[301.6,2.06e-5],[302.7,2.2e-5],[303.1,3e-3],[303.6,3e-3],[304.5,1.8e-4],[305.4,1.8e-4],[306,3e-3],[306.5,3e-3],[307.1,2.0e-5],[307.6,1.83e-5],[312,1.7e-5],[316.4,1.56e-5],[319.7,1.59e-5],[323,1.62e-5],[327.5,1.56e-5],[329.7,1.44e-5],[333,1.56e-5],[336.3,1.62e-5],[339.6,1.59e-5],[342.9,1.62e-5],[346.2,1.56e-5],[347.8,1.62e-5],[349,9.9e-5],[350.1,8.8e-5],[351.2,2.6e-5],[352.8,2.06e-5],[355,3.55e-5],[357,6.4e-5],[358.1,7.5e-5],[359.4,5.7e-5],[361.6,2.7e-5],[364.4,1.62e-5],[367.1,1.32e-5],[370.5,1.32e-5],[373.8,1.27e-5],[377.1,1.27e-5],[379.8,1.2e-5],[382.6,1.44e-5],[385.3,1.9e-5],[388.1,2.6e-5],[389.7,2.8e-5],[392,2.14e-5],[394.7,1.7e-5],[396.9,1.56e-5],[398,1.83e-5],[399.3,6.6e-5],[400.8,3.3e-5],[402.6,2.8e-5],[404.6,1.83e-5],[406.8,1.7e-5],[409,1.62e-5],[411.8,1.5e-5],[415.1,1.7e-5],[418.4,2.06e-5],[420.1,1.98e-5],[422.8,1.32e-5],[425.6,1.23e-5],[428.9,1.2e-5],[431.1,1.27e-5],[432.1,5e-5],[432.5,3e-3],[433.1,3e-3],[433.8,1.8e-4],[434.4,1.8e-4],[434.9,3e-3],[435.4,3e-3],[436,1.2e-5],[436.6,1.06e-5],[439.3,1.01e-5],[442.1,1.01e-5],[445.4,1.19e-5],[447.6,1.1e-5],[449.3,2.7e-5],[450,3.85e-5],[450.7,2.06e-5],[451.5,1.06e-5],[455.3,1.06e-5],[458.6,1.03e-5],[462,1.01e-5],[465.3,1.01e-5],[468.6,1.08e-5],[471.9,1.06e-5],[475.2,1.01e-5],[478.5,9.7e-6],[481.2,1.01e-5],[484,1.27e-5],[486.2,1.56e-5],[488.4,1.56e-5],[490.6,1.4e-5],[492.8,1.23e-5],[495.6,1.1e-5],[497.2,9.9e-6],[498.9,2.23e-5],[500,4.0e-5]];

const epOffA = [[200,8.5e-4],[200.4,3.0e-4],[201.2,6.5e-5],[202.3,5.3e-5],[203.4,9.5e-5],[204.5,1.9e-4],[205.6,9.0e-5],[207.3,4.5e-5],[209.5,4.2e-5],[212.2,4.0e-5],[214.5,1.5e-4],[215.2,1.6e-4],[216.1,1.1e-4],[217.2,4.8e-5],[218.9,3.9e-5],[221.1,3.8e-5],[223.3,4.2e-5],[225.5,3.9e-5],[227.7,4.0e-5],[229.9,4.1e-5],[231.5,6.5e-5],[232.6,3.8e-5],[234.8,4.0e-5],[237.1,3.6e-5],[239.3,2.9e-5],[241.5,2.7e-5],[244.2,3.3e-5],[247,3.9e-5],[248.6,1.0e-4],[249.4,3.1e-4],[250.3,2.3e-4],[251.2,7.0e-5],[252.5,3.6e-5],[254.7,3.4e-5],[258,3.0e-5],[260.8,2.9e-5],[263.5,2.5e-5],[265.7,2.5e-5],[267.7,2.9e-5],[268.6,7.3e-5],[269.6,2.8e-5],[272.3,2.2e-5],[275.6,2.1e-5],[278.9,2.0e-5],[282.3,2.1e-5],[285,1.85e-5],[288,1.9e-5],[290,2.2e-5],[292.7,2.0e-5],[295.5,1.9e-5],[297.5,2.0e-5],[298.8,1.7e-4],[299.4,2.9e-4],[300.3,1.2e-4],[300.8,4.0e-5],[301.6,2.0e-5],[302.7,2.2e-5],[303.1,3e-3],[303.6,3e-3],[304.5,1.8e-4],[305.4,1.8e-4],[306,3e-3],[306.5,3e-3],[307.1,1.9e-5],[307.6,1.75e-5],[312,1.6e-5],[316.4,1.45e-5],[319.7,1.55e-5],[323,1.5e-5],[327.5,1.35e-5],[329.7,1.4e-5],[333,1.55e-5],[336.3,1.6e-5],[339.6,1.5e-5],[342.9,1.55e-5],[346.2,1.35e-5],[347.8,1.5e-5],[349,1.0e-4],[350.1,9.0e-5],[351.2,2.5e-5],[352.8,1.9e-5],[355,3.3e-5],[357,6.2e-5],[358.1,7.2e-5],[359.4,5.4e-5],[361.6,2.5e-5],[364.4,1.5e-5],[367.1,1.22e-5],[370.5,1.2e-5],[373.8,1.22e-5],[377.1,1.25e-5],[379.8,1.2e-5],[382.6,1.4e-5],[385.3,1.85e-5],[388.1,2.5e-5],[389.7,2.7e-5],[392,2.0e-5],[394.7,1.6e-5],[396.9,1.5e-5],[398,1.8e-5],[399.3,7.0e-5],[400.8,3.2e-5],[402.6,2.7e-5],[404.6,1.75e-5],[406.8,1.6e-5],[409,1.55e-5],[411.8,1.45e-5],[415.1,1.65e-5],[418.4,2.0e-5],[420.1,1.9e-5],[422.8,1.3e-5],[425.6,1.2e-5],[428.9,1.15e-5],[431.1,1.22e-5],[432.1,5e-5],[432.5,3e-3],[433.1,3e-3],[433.8,1.8e-4],[434.4,1.8e-4],[434.9,3e-3],[435.4,3e-3],[436,1.2e-5],[436.6,1.05e-5],[439.3,1.0e-5],[442.1,1.0e-5],[445.4,1.15e-5],[447.6,1.1e-5],[449.3,3.5e-5],[450,5.0e-5],[450.7,2.2e-5],[451.5,1.05e-5],[455.3,1.05e-5],[458.6,1.0e-5],[462,9.6e-6],[465.3,1.0e-5],[468.6,1.05e-5],[471.9,1.03e-5],[475.2,9.8e-6],[478.5,9.5e-6],[481.2,1.0e-5],[484,1.25e-5],[486.2,1.55e-5],[488.4,1.55e-5],[490.6,1.4e-5],[492.8,1.2e-5],[495.6,1.08e-5],[497.2,1.0e-5],[498.9,2.4e-5],[500,4.2e-5]];

const epOffB = [[200,8.6e-4],[200.4,3.2e-4],[201.2,6.4e-5],[202.3,5.0e-5],[203.4,8.5e-5],[204.5,1.5e-4],[205.6,8.5e-5],[207.3,4.4e-5],[209.5,4.2e-5],[212.2,4.1e-5],[214.5,1.7e-4],[215,2.1e-4],[216.1,1.5e-4],[217.2,5.0e-5],[218.9,4.1e-5],[221.1,3.9e-5],[223.3,4.3e-5],[225.5,4.0e-5],[227.7,4.2e-5],[229.9,4.3e-5],[231.5,6.2e-5],[232.6,3.9e-5],[234.8,4.2e-5],[237.1,3.9e-5],[239.3,2.9e-5],[241.5,2.8e-5],[244.2,2.9e-5],[247,3.4e-5],[248.6,1.1e-4],[249.4,3.3e-4],[250.3,2.6e-4],[251.2,7.5e-5],[252.5,3.8e-5],[254.7,3.6e-5],[258,3.0e-5],[260.8,2.9e-5],[263.5,2.6e-5],[265.7,2.7e-5],[267.7,3.0e-5],[268.6,6.8e-5],[269.6,2.9e-5],[272.3,2.3e-5],[275.6,2.2e-5],[278.9,2.1e-5],[282.3,2.3e-5],[285,2.2e-5],[288,2.1e-5],[290,2.4e-5],[292.7,2.2e-5],[295.5,2.0e-5],[297.5,2.1e-5],[298.8,1.7e-4],[299.7,2.1e-4],[300.8,4.2e-5],[301.6,2.1e-5],[302.7,2.3e-5],[303.1,3e-3],[303.6,3e-3],[304.5,1.8e-4],[305.4,1.8e-4],[306,3e-3],[306.5,3e-3],[307.1,2.0e-5],[307.6,1.8e-5],[312,1.7e-5],[316.4,1.6e-5],[319.7,1.6e-5],[323,1.65e-5],[327.5,1.6e-5],[329.7,1.5e-5],[333,1.6e-5],[336.3,1.65e-5],[339.6,1.6e-5],[342.9,1.65e-5],[346.2,1.6e-5],[347.8,1.65e-5],[349,1.0e-4],[350.1,9.0e-5],[351.2,2.6e-5],[352.8,1.9e-5],[355,3.3e-5],[357,6.0e-5],[358.1,6.9e-5],[359.4,5.3e-5],[361.6,2.6e-5],[364.4,1.6e-5],[367.1,1.3e-5],[370.5,1.28e-5],[373.8,1.25e-5],[377.1,1.25e-5],[379.8,1.2e-5],[382.6,1.35e-5],[385.3,1.7e-5],[388.1,2.2e-5],[389.7,2.4e-5],[392,1.8e-5],[394.7,1.5e-5],[396.9,1.4e-5],[398,1.7e-5],[399.3,6.5e-5],[400.8,3.3e-5],[402.6,2.6e-5],[404.6,1.8e-5],[406.8,1.7e-5],[409,1.6e-5],[411.8,1.5e-5],[415.1,1.7e-5],[418.4,2.0e-5],[420.1,1.9e-5],[422.8,1.3e-5],[425.6,1.2e-5],[428.9,1.18e-5],[431.1,1.25e-5],[432.1,5e-5],[432.5,3e-3],[433.1,3e-3],[433.8,1.8e-4],[434.4,1.8e-4],[434.9,3e-3],[435.4,3e-3],[436,1.2e-5],[436.6,1.05e-5],[439.3,9.8e-6],[442.1,1.0e-5],[445.4,1.15e-5],[447.6,1.1e-5],[449.3,3.0e-5],[450,4.2e-5],[450.7,2.0e-5],[451.5,1.05e-5],[455.3,1.05e-5],[458.6,1.02e-5],[462,1.0e-5],[465.3,1.0e-5],[468.6,1.06e-5],[471.9,1.04e-5],[475.2,1.0e-5],[478.5,9.7e-6],[481.2,1.0e-5],[484,1.3e-5],[486.2,1.6e-5],[488.4,1.62e-5],[490.6,1.45e-5],[492.8,1.25e-5],[495.6,1.1e-5],[497.2,1.05e-5],[498.9,2.6e-5],[500,4.8e-5]];

// ---------------------------------------------------------------------------
// Layout and styling
// ---------------------------------------------------------------------------
const W = 1024, H = 1121;
const SERIF = "'Liberation Serif','Times New Roman',Times,serif";
const SANS = "'Liberation Sans',Arial,Helvetica,sans-serif";
const TEXT_STRETCH = 1.38;   // labels are set wide

const panels = [
  {
    name: "MICROPHONE",
    params: "nfft/fs = 1.00 : navs = 120 : enbw = 1.50 : nsecs = 120",
    nameX: 225, nameLen: 141, paramsX: 378, paramsLen: 475, titleY: 24,
    tag: "microphone", tagBox: [133, 63, 406, 143],
    top: 38.3, bottom: 526, left: 88, right: 995,
    yDomain: [6.04e-5, 3.70e-2],
    series: [mic2mV, mic1mV, mic500uV, mic180uV, mic90uV, micOffA, micOffB],
    colors: ["#ff0000", "#ff00ff", "#8c8cff", "#00e600", "#000000", "#0000ff", "#ff0000"],
    legend: { x0: 838, y0: 43.3, x1: 1022, y1: 238.3, lx0: 850, lx1: 908, tx: 913, row0: 59.3, step: 27 },
    tickY: 549.5, xTitleY: 574
  },
  {
    name: "MID_EP-P_HP",
    params: "nfft/fs = 1.00 : navs = 120 : enbw = 1.50 : nsecs = 120",
    nameX: 224, nameLen: 124, paramsX: 385, paramsLen: 473, titleY: 601,
    tag: "uncal. Diff. EP", tagBox: [133, 625, 453, 707],
    top: 613.5, bottom: 1070, left: 88, right: 995,
    yDomain: [5.16e-6, 1.156e-3],
    series: [ep2mV, ep1mV, ep500uV, ep180uV, ep90uV, epOffA, epOffB],
    colors: ["#ff0000", "#ff00ff", "#1a8cff", "#00e600", "#000000", "#0000ff", "#ff0000"],
    legend: { x0: 824, y0: 619.3, x1: 1007, y1: 813.3, lx0: 836, lx1: 893, tx: 899, row0: 636.7, step: 26.4 },
    tickY: 1093.5, xTitleY: 1114
  }
];
const dashed = [false, false, false, false, false, true, true];

const svg = d3.select("#chart").append("svg")
  .attr("width", W).attr("height", H)
  .attr("viewBox", `0 0 ${W} ${H}`);
svg.append("rect").attr("width", W).attr("height", H).attr("fill", "#fff");

function wideText(parent, x, y, str, size, anchor) {
  return parent.append("text")
    .attr("transform", `translate(${x},${y}) scale(${TEXT_STRETCH},1)`)
    .attr("text-anchor", anchor || "start")
    .attr("font-family", SERIF).attr("font-weight", "bold")
    .attr("font-size", size).attr("fill", "#000")
    .text(str);
}

panels.forEach((p, pi) => {
  const g = svg.append("g");
  const x = d3.scaleLinear().domain([200, 500]).range([p.left, p.right]);
  const y = d3.scaleLog().domain(p.yDomain).range([p.bottom, p.top]);

  // title (label + analysis parameters)
  [[p.name, p.nameX, p.nameLen], [p.params, p.paramsX, p.paramsLen]].forEach(([s, tx, len]) => {
    g.append("text").attr("x", tx).attr("y", p.titleY)
      .attr("font-family", SERIF).attr("font-weight", "bold").attr("font-size", 15)
      .attr("textLength", len).attr("lengthAdjust", "spacingAndGlyphs")
      .text(s);
  });

  // horizontal grid: decades solid, 2..9 dashed
  const [lo, hi] = p.yDomain;
  const grid = g.append("g");
  for (let e = Math.floor(Math.log10(lo)); e <= Math.ceil(Math.log10(hi)); e++) {
    for (let k = 1; k <= 9; k++) {
      const v = k * Math.pow(10, e);
      if (v < lo || v > hi) continue;
      grid.append("line")
        .attr("x1", p.left).attr("x2", p.right)
        .attr("y1", y(v)).attr("y2", y(v))
        .attr("stroke", "#000")
        .attr("stroke-width", k === 1 ? 1.3 : 1.4)
        .attr("stroke-dasharray", k === 1 ? null : "26,9");
    }
  }
  // vertical grid
  freqTicks.slice(1, -1).forEach(f => {
    grid.append("line")
      .attr("x1", x(f)).attr("x2", x(f))
      .attr("y1", p.top).attr("y2", p.bottom)
      .attr("stroke", "#000").attr("stroke-width", 1.1);
  });

  // curves
  const clipId = "clip" + pi;
  svg.append("clipPath").attr("id", clipId).append("rect")
    .attr("x", p.left).attr("y", p.top)
    .attr("width", p.right - p.left).attr("height", p.bottom - p.top);
  const line = d3.line().x(d => x(d[0])).y(d => y(d[1]));
  const curves = g.append("g").attr("clip-path", `url(#${clipId})`);
  p.series.forEach((data, i) => {
    curves.append("path")
      .attr("d", line(data))
      .attr("fill", "none")
      .attr("stroke", p.colors[i])
      .attr("stroke-width", 2)
      .attr("stroke-linejoin", "round")
      .attr("stroke-dasharray", dashed[i] ? "6,3.5" : null);
  });

  // frame
  g.append("rect")
    .attr("x", p.left).attr("y", p.top)
    .attr("width", p.right - p.left).attr("height", p.bottom - p.top)
    .attr("fill", "none").attr("stroke", "#000").attr("stroke-width", 1.3);

  // x tick labels and title
  freqTicks.forEach(f => wideText(g, x(f), p.tickY, String(f), 15, "middle"));
  wideText(g, (p.left + p.right) / 2, p.xTitleY, "Frequency (Hz)", 15, "middle");

  // y tick labels: 10^e
  for (let e = Math.ceil(Math.log10(lo)); e <= Math.floor(Math.log10(hi)); e++) {
    const yy = y(Math.pow(10, e));
    wideText(g, 67, yy + 6.5, "10", 15, "end");
    wideText(g, 68, yy - 4, String(e), 10, "start");
  }

  // y axis title
  const cy = (p.top + p.bottom) / 2;
  const yt = g.append("text")
    .attr("transform", `translate(32,${cy}) rotate(-90)`)
    .attr("text-anchor", "middle")
    .attr("font-family", SERIF).attr("font-weight", "bold").attr("font-size", 19);
  yt.append("tspan").text("Amplitude (Vrms / Hz");
  yt.append("tspan").attr("font-size", 13).attr("dy", -7).text("1/2");
  yt.append("tspan").attr("dy", 7).text(")");

  // channel tag box
  const [bx0, by0, bx1, by1] = p.tagBox;
  g.append("rect")
    .attr("x", bx0 + 3).attr("y", by0 + 3)
    .attr("width", bx1 - bx0 - 6).attr("height", by1 - by0 - 6)
    .attr("fill", "#ffff99").attr("stroke", "#ff0000").attr("stroke-width", 6.5);
  g.append("text")
    .attr("x", (bx0 + bx1) / 2).attr("y", by0 + 57)
    .attr("text-anchor", "middle")
    .attr("font-family", SANS).attr("font-size", 42).attr("fill", "#000")
    .text(p.tag);

  // legend
  const L = p.legend;
  const lg = g.append("g");
  lg.append("rect")
    .attr("x", L.x0).attr("y", L.y0)
    .attr("width", L.x1 - L.x0).attr("height", L.y1 - L.y0)
    .attr("fill", "#fff").attr("stroke", "#222").attr("stroke-width", 1.3);
  seriesLabels.forEach((lab, i) => {
    const ry = L.row0 + i * L.step;
    lg.append("line")
      .attr("x1", L.lx0).attr("x2", L.lx1).attr("y1", ry).attr("y2", ry)
      .attr("stroke", p.colors[i]).attr("stroke-width", 2.2)
      .attr("stroke-dasharray", dashed[i] ? "7,3" : null);
    wideText(lg, L.tx, ry + 7.5, lab, 15.5, "start");
  });
});
</script>
</body>
</html>
